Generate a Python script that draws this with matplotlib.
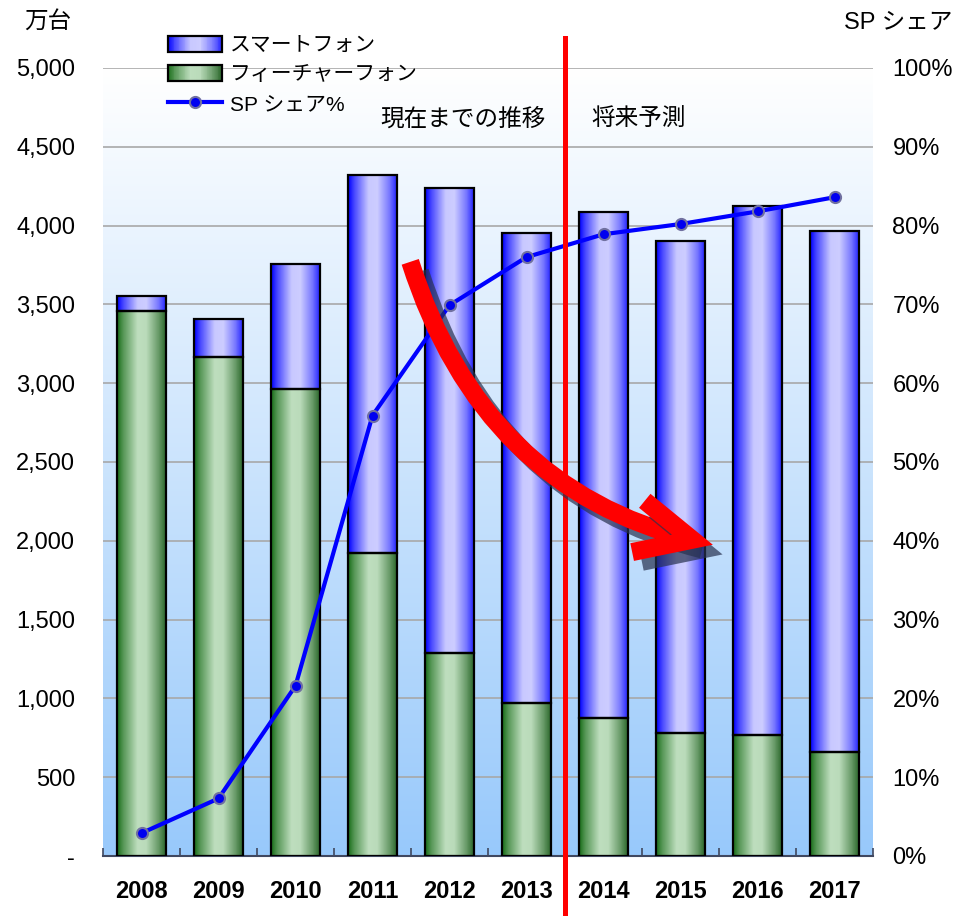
import numpy as np
import matplotlib
matplotlib.use("Agg")
import matplotlib.pyplot as plt
from matplotlib.patches import Rectangle, FancyArrowPatch, ArrowStyle
from matplotlib.legend_handler import HandlerBase
from matplotlib.lines import Line2D
import matplotlib.patheffects as pe

plt.rcParams['font.family'] = ['Liberation Sans', 'Noto Sans CJK JP']

# ---------------- data ----------------
years = ['2008', '2009', '2010', '2011', '2012', '2013', '2014', '2015', '2016', '2017']
feature_phone = [3460, 3168, 2961, 1923, 1286, 969, 873, 778, 765, 661]      # 万台
smartphone = [95, 241, 793, 2400, 2954, 2984, 3211, 3124, 3359, 3304]        # 万台
sp_share = [2.9, 7.3, 21.6, 55.9, 69.9, 76.0, 78.9, 80.2, 81.8, 83.6]         # %
left_ticks = [0, 500, 1000, 1500, 2000, 2500, 3000, 3500, 4000, 4500, 5000]
left_labels = ['-', '500', '1,000', '1,500', '2,000', '2,500', '3,000', '3,500', '4,000', '4,500', '5,000']
right_ticks = [0, 10, 20, 30, 40, 50, 60, 70, 80, 90, 100]
right_labels = [f'{v}%' for v in right_ticks]
legend_labels = ['スマートフォン', 'フィーチャーフォン', 'SP シェア%']
left_unit = '万台'
right_unit = 'SP シェア'
note_past = '現在までの推移'
note_future = '将来予測'
split_index = 5.5   # boundary between 2013 and 2014

# ---------------- styles ----------------
W, H = 959, 916
FS = 17
blue_stops = [(0.0, (0, 0, 255)), (0.12, (70, 70, 255)), (0.42, (200, 200, 255)),
              (0.6, (205, 205, 255)), (0.85, (120, 120, 255)), (1.0, (40, 40, 255))]
green_stops = [(0.0, (25, 110, 25)), (0.12, (85, 150, 85)), (0.42, (190, 222, 190)),
               (0.6, (186, 219, 186)), (0.85, (105, 155, 105)), (1.0, (45, 105, 45))]


def gradient_row(stops, n=64):
    pos = np.array([s[0] for s in stops])
    cols = np.array([s[1] for s in stops], dtype=float) / 255.0
    t = np.linspace(0, 1, n)
    row = np.stack([np.interp(t, pos, cols[:, k]) for k in range(3)], axis=1)
    return row[np.newaxis, :, :]


blue_img = gradient_row(blue_stops)
green_img = gradient_row(green_stops)

fig = plt.figure(figsize=(W / 100, H / 100), dpi=100)
ax = fig.add_axes([103 / W, 1 - 856 / H, 770 / W, 788 / H])

# background gradient (white at top -> light blue at bottom)
bg = np.linspace(0, 1, 256)[:, None]
top_c = np.array([1.0, 1.0, 1.0])
bot_c = np.array([152, 201, 251]) / 255.0
bg_img = (bot_c * (1 - bg) + top_c * bg)[:, :, None].transpose(0, 2, 1)
bg_img = np.repeat(bg_img, 2, axis=1)
ax.imshow(bg_img, extent=(0, 1, 0, 1), transform=ax.transAxes, aspect='auto',
          origin='lower', zorder=-2, interpolation='bilinear')

x = np.arange(len(years))
bw = 0.636
for i in x:
    f = feature_phone[i]
    s = smartphone[i]
    ax.imshow(green_img, extent=(i - bw / 2, i + bw / 2, 0, f), aspect='auto',
              zorder=2, interpolation='bilinear')
    ax.imshow(blue_img, extent=(i - bw / 2, i + bw / 2, f, f + s), aspect='auto',
              zorder=2, interpolation='bilinear')
ax.bar(x, feature_phone, width=bw, fill=False, edgecolor='black', linewidth=1.6, zorder=3)
ax.bar(x, smartphone, bottom=feature_phone, width=bw, fill=False, edgecolor='black',
       linewidth=1.6, zorder=3)

ax.set_xlim(-0.5, len(years) - 0.5)
ax.set_ylim(0, 5000)
ax.set_yticks(left_ticks)
ax.set_yticklabels(left_labels, fontsize=FS)
ax.tick_params(axis='y', length=0, pad=20)
ax.set_xticks(x)
ax.set_xticklabels(years, fontsize=FS, fontweight='bold')
ax.tick_params(axis='x', which='major', length=0, pad=17)
ax.set_xticks(np.arange(-0.5, len(years)), minor=True)
ax.tick_params(axis='x', which='minor', direction='in', length=6, width=1.2, color='#404860')
ax.yaxis.grid(True, color='#a8a8a8', linewidth=1.2)
ax.set_axisbelow(True)
for side in ['left', 'right', 'top']:
    ax.spines[side].set_visible(False)
ax.spines['bottom'].set_color('#404860')
ax.spines['bottom'].set_linewidth(1.5)

ax2 = ax.twinx()
ax2.set_ylim(0, 100)
ax2.plot(x, sp_share, color='#0000ff', linewidth=3, marker='o', markersize=8,
         markerfacecolor='#0000f0', markeredgecolor='#7070a0', markeredgewidth=1.5, zorder=5)
ax2.set_yticks(right_ticks)
ax2.set_yticklabels(right_labels, fontsize=FS)
ax2.tick_params(axis='y', length=0, pad=14)
for side in ['left', 'right', 'top', 'bottom']:
    ax2.spines[side].set_visible(False)

# red vertical separator
ax2.axvline(split_index, ymin=-0.076, ymax=1.038, color='#ff0000', linewidth=3.6,
            clip_on=False, zorder=8)

# curved red arrow with shadow
arrow = FancyArrowPatch((0.399, 0.754), (0.792, 0.395), transform=ax2.transAxes,
                        connectionstyle='arc3,rad=0.28',
                        arrowstyle=ArrowStyle('->', head_length=40, head_width=19),
                        mutation_scale=1, color='#ff0000', linewidth=13,
                        shrinkA=0, shrinkB=0, zorder=9, joinstyle='miter', capstyle='butt')
arrow.set_path_effects([pe.SimpleLineShadow(offset=(7, -7), shadow_color='#283250', alpha=0.7),
                        pe.Normal()])
ax2.add_patch(arrow)

# annotation texts
fig.text(463 / W, 1 - 120 / H, note_past, fontsize=FS, ha='center', va='center')
fig.text(639 / W, 1 - 120 / H, note_future, fontsize=FS, ha='center', va='center')
fig.text(48 / W, 1 - 22 / H, left_unit, fontsize=FS, ha='center', va='center')
fig.text(953 / W, 1 - 22 / H, right_unit, fontsize=FS, ha='right', va='center')


# legend with gradient boxes
class GradientHandler(HandlerBase):
    def __init__(self, img):
        super().__init__()
        self.img = img

    def create_artists(self, legend, orig_handle, xdescent, ydescent, width, height,
                       fontsize, trans):
        row = self.img[0]
        n = row.shape[0]
        arts = []
        for k in range(n):
            r = Rectangle((-xdescent + width * k / n, -ydescent), width / n + 0.3, height,
                          facecolor=row[k], edgecolor='none', transform=trans)
            arts.append(r)
        arts.append(Rectangle((-xdescent, -ydescent), width, height, facecolor='none',
                              edgecolor='black', linewidth=1.6, transform=trans))
        return arts


h_blue = Rectangle((0, 0), 1, 1)
h_green = Rectangle((0, 0), 1, 1)
h_line = Line2D([], [], color='#0000ff', linewidth=3, marker='o', markersize=8,
                markerfacecolor='#0000f0', markeredgecolor='#7070a0', markeredgewidth=1.5)
leg = fig.legend([h_blue, h_green, h_line], legend_labels,
                 handler_map={h_blue: GradientHandler(blue_img), h_green: GradientHandler(green_img)},
                 loc='upper left', bbox_to_anchor=(153 / W, 1 - 21 / H), frameon=False,
                 fontsize=15, handlelength=2.6, handleheight=0.8, labelspacing=0.5,
                 handletextpad=0.4, borderpad=0.2)

fig.savefig('out.png', dpi=100)
